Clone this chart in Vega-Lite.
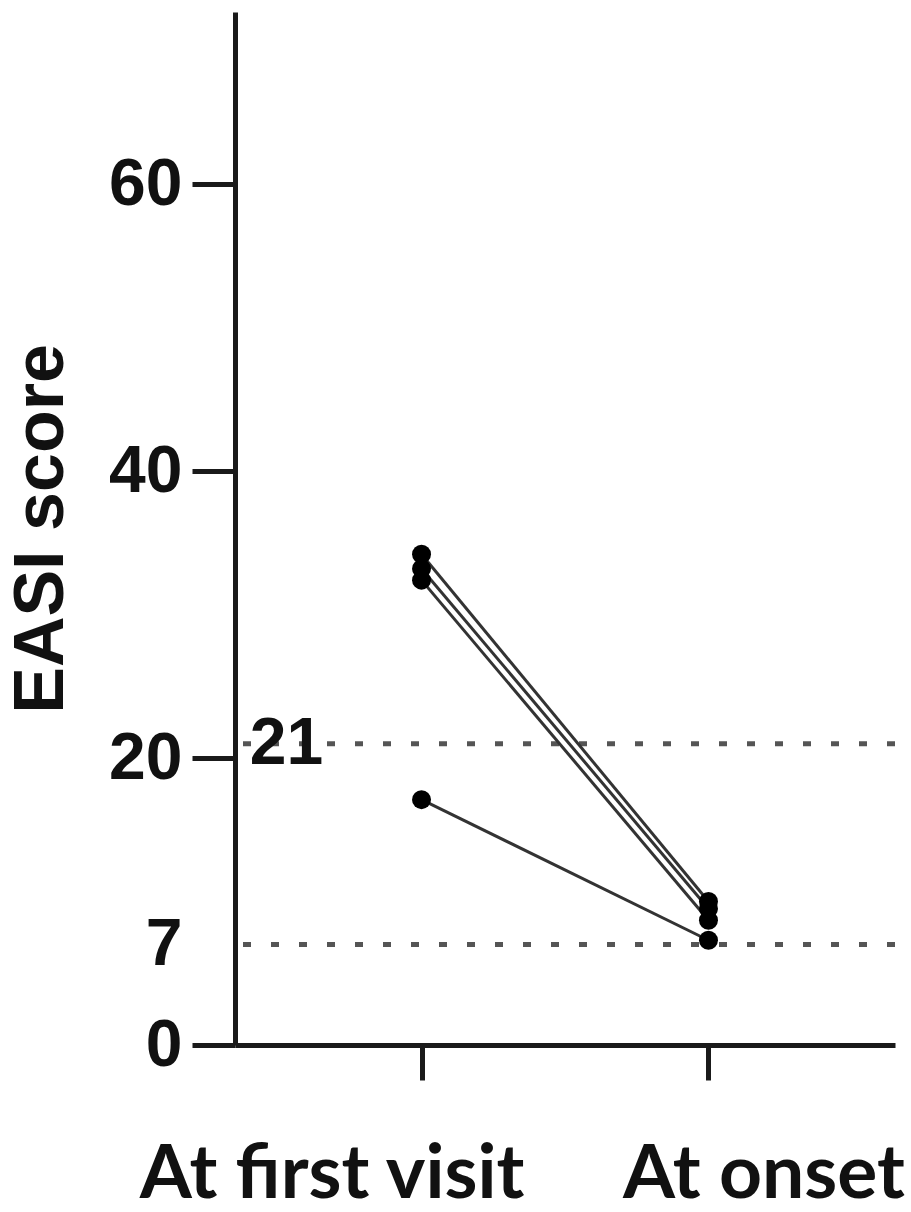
{
  "$schema": "https://vega.github.io/schema/vega-lite/v6.json",
  "width": 660,
  "height": 1033,
  "autosize": {"type": "none"},
  "padding": {"left": 235, "top": 12, "right": 16, "bottom": 167},
  "background": "white",
  "config": {
    "view": {"stroke": null},
    "axis": {
      "grid": false,
      "domainColor": "#1a1a1a",
      "domainWidth": 5,
      "tickColor": "#1a1a1a",
      "tickWidth": 5,
      "labelColor": "#111111",
      "titleColor": "#111111"
    }
  },
  "datasets": {
    "pts": [
      {"patient": "A", "time": "At first visit", "easi": 34.2},
      {"patient": "A", "time": "At onset", "easi": 10.0},
      {"patient": "B", "time": "At first visit", "easi": 33.2},
      {"patient": "B", "time": "At onset", "easi": 9.5},
      {"patient": "C", "time": "At first visit", "easi": 32.4},
      {"patient": "C", "time": "At onset", "easi": 8.7},
      {"patient": "D", "time": "At first visit", "easi": 17.1},
      {"patient": "D", "time": "At onset", "easi": 7.3}
    ],
    "thr": [{"threshold": 21}, {"threshold": 7}],
    "lab": [{"label": "21", "value": 21, "time": "At first visit"}]
  },
  "encoding": {
    "x": {
      "field": "time",
      "type": "ordinal",
      "sort": ["At first visit", "At onset"],
      "scale": {"type": "point", "padding": 0.65},
      "axis": {
        "title": null,
        "labelAngle": 0,
        "labelLimit": 0,
        "labelOverlap": false,
        "labelFont": "Lato",
        "labelFontSize": 75,
        "labelFontWeight": "bold",
        "labelBaseline": "alphabetic",
        "labelOffset": {"condition": {"test": "datum.value === 'At first visit'", "value": -90}, "value": 55},
        "tickSize": 35,
        "labelPadding": 117
      }
    }
  },
  "layer": [
    {
      "data": {"name": "thr"},
      "mark": {"type": "rule", "strokeDash": [8, 20], "strokeWidth": 5, "color": "#555555"},
      "encoding": {
        "x": null,
        "y": {"field": "threshold", "type": "quantitative", "scale": {"domain": [0, 72]}}
      }
    },
    {
      "data": {"name": "pts"},
      "mark": {"type": "line", "color": "#333333", "strokeWidth": 3},
      "encoding": {
        "y": {
          "field": "easi",
          "type": "quantitative",
          "scale": {"domain": [0, 72], "nice": false},
          "axis": {
            "values": [0, 7, 20, 40, 60],
            "tickSize": 43,
            "tickOpacity": {"condition": {"test": "datum.value === 7", "value": 0}, "value": 1},
            "labelPadding": 10,
            "labelFont": "Liberation Sans",
            "labelFontSize": 66,
            "labelFontWeight": "bold",
            "title": "EASI score",
            "titleFont": "Liberation Sans",
            "titleFontSize": 70,
            "titleFontWeight": "bold",
            "titlePadding": 31
          }
        },
        "detail": {"field": "patient"}
      }
    },
    {
      "data": {"name": "pts"},
      "mark": {"type": "circle", "size": 360, "color": "#000000", "opacity": 1},
      "encoding": {
        "y": {"field": "easi", "type": "quantitative"}
      }
    },
    {
      "data": {"name": "lab"},
      "mark": {"type": "text", "font": "Liberation Sans", "fontSize": 66, "fontWeight": "bold", "dx": -135, "align": "center", "baseline": "middle", "color": "#111111"},
      "encoding": {
        "y": {"field": "value", "type": "quantitative"},
        "text": {"field": "label"}
      }
    }
  ]
}
